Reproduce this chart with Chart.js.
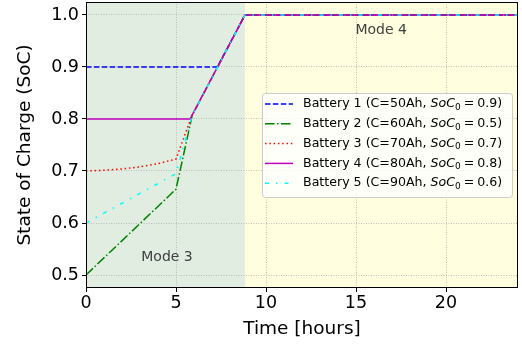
<!DOCTYPE html>
<html>
<head>
<meta charset="utf-8">
<script src="https://cdn.jsdelivr.net/npm/chart.js@4.4.0/dist/chart.umd.min.js"></script>
<style>
html, body { margin: 0; padding: 0; background: #fff; }
</style>
</head>
<body>
<canvas id="socChart" width="522" height="352"></canvas>
<script>
//DATA
const batteryNames = ['Battery 1', 'Battery 2', 'Battery 3', 'Battery 4', 'Battery 5'];
const capacities = ['50Ah', '60Ah', '70Ah', '80Ah', '90Ah'];
const initialSoC = ['0.9', '0.5', '0.7', '0.8', '0.6'];

const b1Time = [0, 7.3, 8.83, 24];
const b1SoC = [0.9, 0.9, 1.0, 1.0];

const b2Time = [0, 5, 5.9, 8.83, 24];
const b2SoC = [0.5, 0.665, 0.807, 1.0, 1.0];

const b3Time = [0, 1, 2, 3, 4, 5, 5.88, 8.83, 24];
const b3SoC = [0.7, 0.7015, 0.704, 0.708, 0.714, 0.723, 0.806, 1.0, 1.0];

const b4Time = [0, 5.78, 8.83, 24];
const b4SoC = [0.8, 0.8, 1.0, 1.0];

const b5Time = [0, 5, 5.9, 8.83, 24];
const b5SoC = [0.6, 0.695, 0.807, 1.0, 1.0];

const xTicks = [0, 5, 10, 15, 20];
const yTicks = [0.5, 0.6, 0.7, 0.8, 0.9, 1.0];
const modeSwitchTime = 8.83;

//STYLE
const lineColors = ['#0000ff', '#008000', '#ff0000', '#bf00bf', '#00ffff'];
const lineDashes = [[5.5, 2.4], [9.6, 2.4, 1.5, 2.4], [1.5, 2.8], [], [4, 7, 1.5, 7]];

function toPoints(ts, vs) {
    return ts.map((t, i) => ({ x: t, y: vs[i] }));
}

const seriesTimes = [b1Time, b2Time, b3Time, b4Time, b5Time];
const seriesSoC = [b1SoC, b2SoC, b3SoC, b4SoC, b5SoC];

const socData = {
    datasets: batteryNames.map((name, i) => ({
        label: name + ' (C=' + capacities[i] + ', SoC0 = ' + initialSoC[i] + ')',
        data: toPoints(seriesTimes[i], seriesSoC[i]),
        borderColor: lineColors[i],
        borderDash: lineDashes[i],
        borderWidth: 1.5,
        pointRadius: 0,
        tension: 0,
        fill: false,
        order: 5 - i
    }))
};

//PLUGINS
const modeBackground = {
    id: 'modeBackground',
    beforeDraw(chart) {
        const ctx = chart.ctx, area = chart.chartArea;
        const xs = chart.scales.x.getPixelForValue(modeSwitchTime);
        ctx.save();
        ctx.fillStyle = 'rgb(224, 237, 224)';
        ctx.fillRect(area.left, area.top, xs - area.left, area.bottom - area.top);
        ctx.fillStyle = 'rgb(255, 255, 224)';
        ctx.fillRect(xs, area.top, area.right - xs, area.bottom - area.top);
        ctx.restore();
    },
    afterDatasetsDraw(chart) {
        const ctx = chart.ctx, x = chart.scales.x, y = chart.scales.y;
        ctx.save();
        ctx.fillStyle = '#404040';
        ctx.font = '14px "DejaVu Sans"';
        ctx.textAlign = 'center';
        ctx.textBaseline = 'middle';
        ctx.fillText('Mode 3', x.getPixelForValue(4.5), y.getPixelForValue(0.533));
        ctx.fillText('Mode 4', x.getPixelForValue(16.4), y.getPixelForValue(0.971));
        ctx.restore();
    },
    afterDraw(chart) {
        const ctx = chart.ctx, area = chart.chartArea;
        ctx.save();
        // frame
        ctx.strokeStyle = '#000';
        ctx.lineWidth = 1;
        ctx.strokeRect(area.left + 0.5, area.top + 0.5, area.right - area.left - 1, area.bottom - area.top - 1);

        // legend
        const boxW = 250, boxH = 104;
        const boxL = area.right - 6 - boxW, boxT = area.top + 91;
        ctx.beginPath();
        ctx.roundRect(boxL + 0.5, boxT + 0.5, boxW, boxH, 3);
        ctx.fillStyle = 'rgba(255,255,255,0.8)';
        ctx.fill();
        ctx.strokeStyle = '#cccccc';
        ctx.stroke();

        chart.data.datasets.forEach((ds, i) => {
            const yy = boxT + 11 + i * 19.8;
            ctx.beginPath();
            ctx.setLineDash(ds.borderDash);
            ctx.strokeStyle = ds.borderColor;
            ctx.lineWidth = 1.5;
            ctx.moveTo(boxL + 3, yy);
            ctx.lineTo(boxL + 31, yy);
            ctx.stroke();
            ctx.setLineDash([]);

            ctx.fillStyle = '#000';
            ctx.textBaseline = 'middle';
            ctx.textAlign = 'left';
            let tx = boxL + 41;
            const pre = batteryNames[i] + ' (C=' + capacities[i] + ', ';
            ctx.font = '12.6px "DejaVu Sans"';
            ctx.fillText(pre, tx, yy);
            tx += ctx.measureText(pre).width;
            ctx.font = 'italic 12.6px "DejaVu Sans"';
            ctx.fillText('SoC', tx, yy);
            tx += ctx.measureText('SoC').width;
            ctx.font = '9px "DejaVu Sans"';
            ctx.fillText('0', tx, yy + 3.5);
            tx += ctx.measureText('0').width + 3;
            ctx.font = '12.6px "DejaVu Sans"';
            ctx.fillText('=', tx, yy);
            tx += ctx.measureText('=').width + 3;
            ctx.fillText(initialSoC[i] + ')', tx, yy);
        });
        ctx.restore();
    }
};

//CONFIG
const socConfig = {
    type: 'line',
    data: socData,
    options: {
        responsive: false,
        animation: false,
        layout: { padding: { top: 2, right: 4, left: 0, bottom: 0 } },
        plugins: {
            legend: { display: false },
            tooltip: { enabled: false }
        },
        scales: {
            x: {
                type: 'linear',
                min: 0,
                max: 24,
                afterBuildTicks: (s) => { s.ticks = xTicks.map(v => ({ value: v })); },
                afterFit: (s) => { s.height = 64; },
                grid: { color: '#b0b0b0', lineWidth: 0.8, tickLength: 4, tickColor: '#000', tickWidth: 1 },
                border: { display: false, dash: [1, 1.5] },
                ticks: { color: '#000', font: { family: 'DejaVu Sans', size: 17.5 }, padding: 1, maxRotation: 0 },
                title: { display: true, text: 'Time [hours]', color: '#000', font: { family: 'DejaVu Sans', size: 18.5 }, padding: { top: 4, bottom: 12 } }
            },
            y: {
                type: 'linear',
                min: 0.475,
                max: 1.025,
                afterBuildTicks: (s) => { s.ticks = yTicks.map(v => ({ value: v })); },
                afterFit: (s) => { s.width = 86; s.paddingTop = 0; s.paddingBottom = 0; },
                grid: { color: '#b0b0b0', lineWidth: 0.8, tickLength: 4, tickColor: '#000', tickWidth: 1 },
                border: { display: false, dash: [1, 1.5] },
                ticks: { color: '#000', font: { family: 'DejaVu Sans', size: 17.5 }, padding: 3, callback: (v) => v.toFixed(1) },
                title: { display: true, text: 'State of Charge (SoC)', color: '#000', font: { family: 'DejaVu Sans', size: 18.5 }, padding: { top: 14, bottom: 4 } }
            }
        }
    },
    plugins: [modeBackground]
};

//RENDER
const socChart = new Chart(
    document.getElementById('socChart'),
    socConfig
);
</script>
</body>
</html>
